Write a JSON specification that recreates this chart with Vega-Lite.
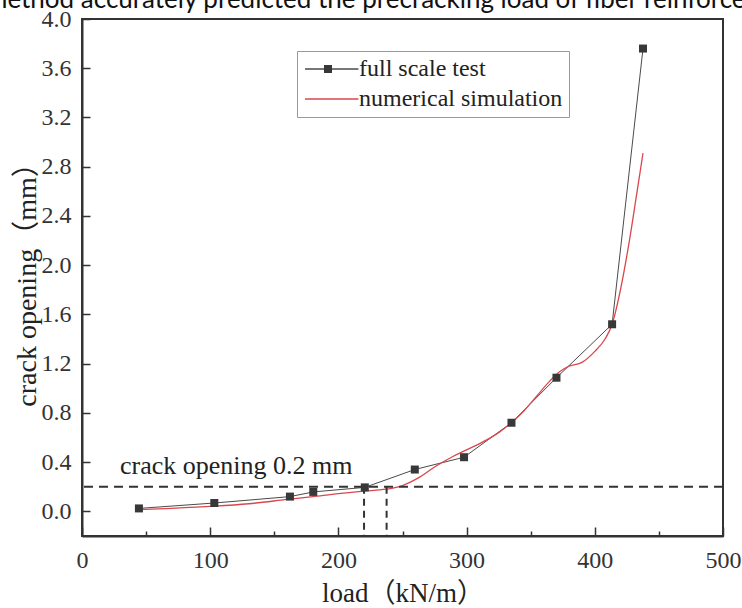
{
  "$schema": "https://vega.github.io/schema/vega-lite/v6.json",
  "autosize": {"type": "none"},
  "padding": {"left": 82, "top": 19, "right": 19, "bottom": 72},
  "width": 641,
  "height": 517,
  "background": "white",
  "title": {
    "text": "method accurately predicted the precracking load of fiber reinforced",
    "anchor": "start",
    "frame": "group",
    "offset": 0,
    "dy": 27,
    "baseline": "alphabetic",
    "dx": -96,
    "font": "Lato",
    "fontSize": 26,
    "fontWeight": "normal",
    "color": "#111"
  },
  "config": {
    "view": {"stroke": "#333", "strokeWidth": 2},
    "axis": {
      "grid": false,
      "domainColor": "#333",
      "domainWidth": 2,
      "tickColor": "#333",
      "tickWidth": 1.5,
      "labelFont": "Liberation Serif",
      "labelFontSize": 24,
      "labelColor": "#333",
      "titleFont": "Liberation Serif, Noto Sans CJK SC",
      "titleFontSize": 27,
      "titleFontWeight": "normal",
      "titleColor": "#222"
    },
    "legend": {
      "labelFont": "Liberation Serif",
      "labelColor": "#222"
    }
  },
  "datasets": {
    "test": [
      {"load": 44.4, "opening": 0.024, "series": "full scale test"},
      {"load": 103.2, "opening": 0.068, "series": "full scale test"},
      {"load": 162.2, "opening": 0.12, "series": "full scale test"},
      {"load": 180.4, "opening": 0.158, "series": "full scale test"},
      {"load": 220.6, "opening": 0.195, "series": "full scale test"},
      {"load": 259.6, "opening": 0.34, "series": "full scale test"},
      {"load": 298, "opening": 0.44, "series": "full scale test"},
      {"load": 335, "opening": 0.72, "series": "full scale test"},
      {"load": 370.1, "opening": 1.086, "series": "full scale test"},
      {"load": 413.5, "opening": 1.52, "series": "full scale test"},
      {"load": 437.6, "opening": 3.76, "series": "full scale test"}
    ],
    "sim": [
      {"load": 44, "opening": 0.015, "series": "numerical simulation"},
      {"load": 70, "opening": 0.025, "series": "numerical simulation"},
      {"load": 103, "opening": 0.042, "series": "numerical simulation"},
      {"load": 130, "opening": 0.062, "series": "numerical simulation"},
      {"load": 160, "opening": 0.097, "series": "numerical simulation"},
      {"load": 180, "opening": 0.12, "series": "numerical simulation"},
      {"load": 200, "opening": 0.145, "series": "numerical simulation"},
      {"load": 220, "opening": 0.165, "series": "numerical simulation"},
      {"load": 237, "opening": 0.18, "series": "numerical simulation"},
      {"load": 250, "opening": 0.21, "series": "numerical simulation"},
      {"load": 262, "opening": 0.27, "series": "numerical simulation"},
      {"load": 275, "opening": 0.36, "series": "numerical simulation"},
      {"load": 290, "opening": 0.45, "series": "numerical simulation"},
      {"load": 300, "opening": 0.5, "series": "numerical simulation"},
      {"load": 312, "opening": 0.56, "series": "numerical simulation"},
      {"load": 325, "opening": 0.64, "series": "numerical simulation"},
      {"load": 335, "opening": 0.72, "series": "numerical simulation"},
      {"load": 345, "opening": 0.82, "series": "numerical simulation"},
      {"load": 355, "opening": 0.94, "series": "numerical simulation"},
      {"load": 365, "opening": 1.06, "series": "numerical simulation"},
      {"load": 372, "opening": 1.13, "series": "numerical simulation"},
      {"load": 380, "opening": 1.18, "series": "numerical simulation"},
      {"load": 390, "opening": 1.21, "series": "numerical simulation"},
      {"load": 400, "opening": 1.3, "series": "numerical simulation"},
      {"load": 408, "opening": 1.4, "series": "numerical simulation"},
      {"load": 413.5, "opening": 1.52, "series": "numerical simulation"},
      {"load": 420, "opening": 1.8, "series": "numerical simulation"},
      {"load": 427, "opening": 2.2, "series": "numerical simulation"},
      {"load": 433, "opening": 2.6, "series": "numerical simulation"},
      {"load": 437.6, "opening": 2.91, "series": "numerical simulation"}
    ],
    "guides": [
      {"load": 220, "opening": 0.2},
      {"load": 237.6, "opening": 0.2}
    ],
    "note": [
      {"load": 29.6, "opening": 0.305, "label": "crack opening 0.2 mm"}
    ]
  },
  "layer": [
    {
      "data": {"name": "test"},
      "mark": {"type": "line", "strokeWidth": 1, "interpolate": "linear"},
      "encoding": {
        "x": {
          "field": "load",
          "type": "quantitative",
          "scale": {"domain": [0, 500], "nice": false, "zero": false},
          "axis": {
            "title": "load（kN/m）",
            "values": [0, 50, 100, 150, 200, 250, 300, 350, 400, 450, 500],
            "labelExpr": "datum.value % 100 === 0 ? datum.label : ''",
            "format": "d",
            "labelFlush": false,
            "tickSize": {"condition": {"test": "datum.value % 100 === 0", "value": -9}, "value": -5},
            "labelPadding": 21,
            "titleY": 65,
            "titleBaseline": "alphabetic"
          }
        },
        "y": {
          "field": "opening",
          "type": "quantitative",
          "scale": {"domain": [-0.2, 4.0], "nice": false, "zero": false},
          "axis": {
            "title": "crack opening（mm）",
            "values": [0, 0.2, 0.4, 0.6, 0.8, 1.0, 1.2, 1.4, 1.6, 1.8, 2.0, 2.2, 2.4, 2.6, 2.8, 3.0, 3.2, 3.4, 3.6, 3.8, 4.0],
            "labelExpr": "round(datum.value * 10) % 4 === 0 ? format(datum.value, '.1f') : ''",
            "labelFlush": false,
            "tickSize": {"condition": {"test": "round(datum.value * 10) % 4 === 0", "value": -8}, "value": -5},
            "labelPadding": 19,
            "titleFontSize": 28,
            "titleX": -47,
            "titleBaseline": "alphabetic"
          }
        },
        "color": {
          "field": "series",
          "type": "nominal",
          "scale": {"domain": ["full scale test", "numerical simulation"], "range": ["#4a4a4a", "#d9474c"]},
          "legend": {
            "title": null,
            "orient": "none",
            "legendX": 215,
            "legendY": 32,
            "padding": 6,
            "strokeColor": "#999",
            "labelFontSize": 24,
            "labelLimit": 0,
            "labelOffset": 32,
            "rowPadding": 6,
            "symbolType": "M-1.43,0H6.2",
            "symbolSize": 196,
            "symbolStrokeWidth": 1.3
          }
        }
      }
    },
    {
      "data": {"name": "sim"},
      "mark": {"type": "line", "strokeWidth": 1.3, "interpolate": "monotone"},
      "encoding": {
        "x": {"field": "load", "type": "quantitative"},
        "y": {"field": "opening", "type": "quantitative"},
        "color": {"field": "series", "type": "nominal"}
      }
    },
    {
      "data": {"name": "guides"},
      "mark": {"type": "rule", "color": "#333", "strokeWidth": 2, "strokeDash": [7, 5]},
      "encoding": {
        "x": {"field": "load", "type": "quantitative"},
        "y": {"field": "opening", "type": "quantitative"},
        "y2": {"datum": -0.2}
      }
    },
    {
      "data": {"name": "note"},
      "mark": {"type": "rule", "color": "#333", "strokeWidth": 2, "strokeDash": [9, 6]},
      "encoding": {
        "y": {"datum": 0.2, "type": "quantitative"}
      }
    },
    {
      "data": {"name": "note"},
      "mark": {"type": "text", "align": "left", "baseline": "alphabetic", "font": "Liberation Serif", "fontSize": 26, "color": "#222"},
      "encoding": {
        "x": {"field": "load", "type": "quantitative"},
        "y": {"field": "opening", "type": "quantitative"},
        "text": {"field": "label"}
      }
    },
    {
      "data": {"name": "test"},
      "mark": {"type": "square", "size": 64, "opacity": 1},
      "encoding": {
        "x": {"field": "load", "type": "quantitative"},
        "y": {"field": "opening", "type": "quantitative"},
        "fill": {
          "field": "series",
          "type": "nominal",
          "scale": {"domain": ["full scale test"], "range": ["#383838"]},
          "legend": {
            "title": null,
            "orient": "none",
            "legendX": 242,
            "legendY": 46,
            "padding": 0,
            "labelExpr": "''",
            "labelFontSize": 1,
            "symbolType": "square",
            "symbolSize": 64,
            "symbolStrokeWidth": 0
          }
        }
      }
    }
  ]
}
